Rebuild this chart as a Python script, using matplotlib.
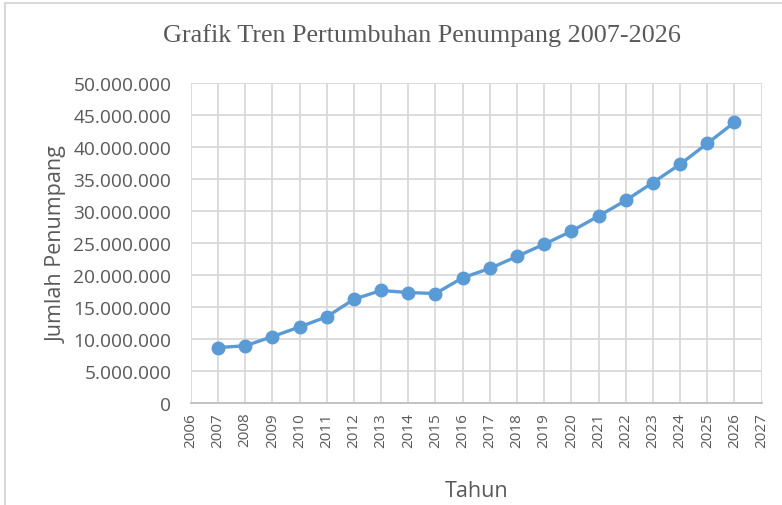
import matplotlib.pyplot as plt
from matplotlib.patches import Rectangle
from matplotlib.ticker import FuncFormatter, MultipleLocator

years = [2007, 2008, 2009, 2010, 2011, 2012, 2013, 2014, 2015, 2016,
         2017, 2018, 2019, 2020, 2021, 2022, 2023, 2024, 2025, 2026]
passengers = [8_730_000, 9_000_000, 10_430_000, 11_940_000, 13_520_000,
              16_270_000, 17_630_000, 17_310_000, 17_150_000, 19_620_000,
              21_070_000, 22_950_000, 24_850_000, 26_880_000, 29_240_000,
              31_680_000, 34_470_000, 37_320_000, 40_570_000, 43_870_000]

title = "Grafik Tren Pertumbuhan Penumpang 2007-2026"
x_label = "Tahun"
y_label = "Jumlah Penumpang"

text_color = "#595959"
grid_color = "#D9D9D9"
line_color = "#5B9BD5"
axis_font = "Open Sans"

fig = plt.figure(figsize=(7.82, 5.06), dpi=100)
ax = fig.add_axes([0.244, 0.2006, 0.730, 0.6334])

ax.plot(years, passengers, color=line_color, linewidth=2.4, marker="o",
        markersize=9, zorder=3)

ax.set_xlim(2006, 2027)
ax.set_ylim(0, 50_000_000)
ax.xaxis.set_major_locator(MultipleLocator(1))
ax.yaxis.set_major_locator(MultipleLocator(5_000_000))
ax.yaxis.set_major_formatter(FuncFormatter(lambda v, _: f"{int(v):,}".replace(",", ".")))

ax.grid(True, color=grid_color, linewidth=1.3)
ax.set_axisbelow(True)
for side in ["top", "right", "left"]:
    ax.spines[side].set_visible(False)
ax.spines["bottom"].set_color("#BFBFBF")
ax.spines["bottom"].set_linewidth(1.3)
ax.tick_params(length=0, colors=text_color)
ax.tick_params(axis="y", labelsize=13.8, pad=14)
ax.tick_params(axis="x", labelsize=11, rotation=90, pad=6)
for lbl in ax.get_xticklabels() + ax.get_yticklabels():
    lbl.set_fontfamily(axis_font)

ax.set_ylabel(y_label, fontsize=15.5, color=text_color, family=axis_font, labelpad=4)
ax.set_xlabel(x_label, fontsize=15.5, color=text_color, family=axis_font, labelpad=24)
fig.text(0.539, 0.93, title, ha="center", va="center", fontsize=18.8,
         color=text_color, family="Liberation Serif")

fig.patches.append(Rectangle((0.006, -0.02), 1.1, 1.013, transform=fig.transFigure,
                             fill=False, edgecolor="#D9D9D9", linewidth=1.5))

fig.savefig("out.png", dpi=100)
